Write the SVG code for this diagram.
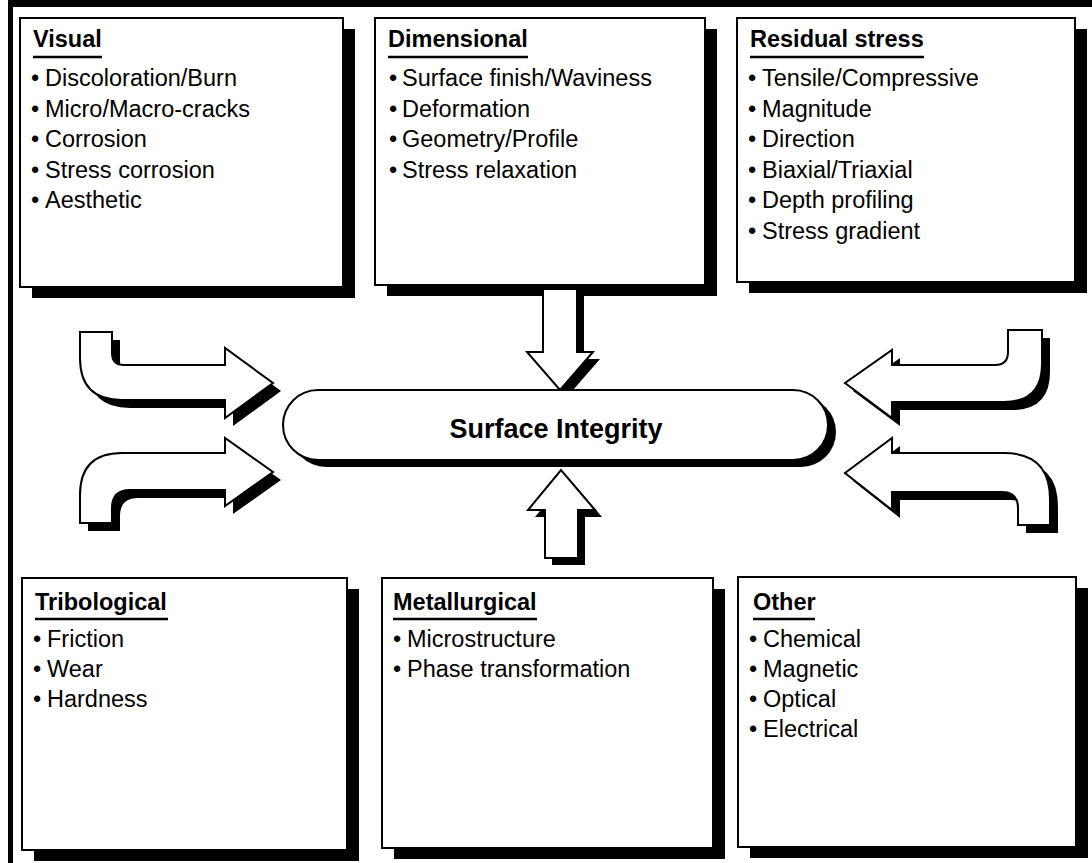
<svg xmlns="http://www.w3.org/2000/svg" width="1092" height="863" viewBox="0 0 1092 863">
<style>
.bg{fill:#fff}
.frame{fill:#000}
.box{fill:#fff;stroke:#000;stroke-width:2}
.sh{fill:#000}
.ttl{font-family:"Liberation Sans",Arial,Helvetica,sans-serif;font-weight:bold;font-size:23.5px;fill:#000}
.itm{font-family:"Liberation Sans",Arial,Helvetica,sans-serif;font-size:23.5px;fill:#000}
.ul{stroke:#000;stroke-width:2.5}
.arr{fill:#fff;stroke:#000;stroke-width:2;stroke-linejoin:miter}
.center{font-family:"Liberation Sans",Arial,Helvetica,sans-serif;font-weight:bold;font-size:27px;fill:#000}
</style>
<defs>
<path id="aL1" d="M80 332 L112 332 L112 353 Q112 365 124 365 L225 365 L225 348 L273 383 L225 418 L225 400 L122 400 Q80 400 80 358 Z"/>
<path id="aL2" d="M80 523 L80 495 Q80 453 122 453 L225 453 L225 438 L273 472 L225 506 L225 490 L130 490 Q112 490 112 508 L112 523 Z"/>
<path id="aR1" d="M1042 330 L1008 330 L1008 352 Q1008 365 995 365 L892 365 L892 350 L845 383 L892 418 L892 402 L1004 402 Q1042 402 1042 364 Z"/>
<path id="aR2" d="M1018 525 L1018 508 Q1018 492 1002 492 L892 492 L892 510 L845 473 L892 438 L892 453 L1004 453 Q1050 453 1050 499 L1050 525 Z"/>
<path id="aD" d="M543 289 L577 289 L577 352 L593 352 L560 390 L527 352 L543 352 Z"/>
<path id="aU" d="M545 558 L545 510 L528 510 L561 470 L595 510 L578 510 L578 558 Z"/>
</defs>
<rect class="bg" x="0" y="0" width="1092" height="863"/>
<rect class="frame" x="8" y="0" width="1084" height="7"/>
<rect class="frame" x="8" y="0" width="5" height="863"/>

<g id="visual">
<rect class="sh" x="32" y="29" width="323" height="269"/>
<rect class="box" x="20" y="18" width="323" height="269"/>
<text class="ttl" x="33" y="47">Visual</text>
<line class="ul" x1="33" y1="57" x2="102" y2="57"/>
<text class="itm"><tspan x="31" y="86">•</tspan><tspan x="45" y="86">Discoloration/Burn</tspan></text>
<text class="itm"><tspan x="31" y="116.5">•</tspan><tspan x="45" y="116.5">Micro/Macro-cracks</tspan></text>
<text class="itm"><tspan x="31" y="147">•</tspan><tspan x="45" y="147">Corrosion</tspan></text>
<text class="itm"><tspan x="31" y="177.5">•</tspan><tspan x="45" y="177.5">Stress corrosion</tspan></text>
<text class="itm"><tspan x="31" y="208">•</tspan><tspan x="45" y="208">Aesthetic</tspan></text>
</g>

<g id="dimensional">
<rect class="sh" x="387" y="29" width="330" height="267"/>
<rect class="box" x="375" y="18" width="330" height="267"/>
<text class="ttl" x="388" y="47">Dimensional</text>
<line class="ul" x1="388" y1="57" x2="528" y2="57"/>
<text class="itm"><tspan x="389" y="86">•</tspan><tspan x="402" y="86">Surface finish/Waviness</tspan></text>
<text class="itm"><tspan x="389" y="116.5">•</tspan><tspan x="402" y="116.5">Deformation</tspan></text>
<text class="itm"><tspan x="389" y="147">•</tspan><tspan x="402" y="147">Geometry/Profile</tspan></text>
<text class="itm"><tspan x="389" y="177.5">•</tspan><tspan x="402" y="177.5">Stress relaxation</tspan></text>
</g>

<g id="residual-stress">
<rect class="sh" x="749" y="29" width="338" height="264"/>
<rect class="box" x="737" y="18" width="338" height="264"/>
<text class="ttl" x="750" y="47">Residual stress</text>
<line class="ul" x1="750" y1="57" x2="924" y2="57"/>
<text class="itm"><tspan x="748" y="86">•</tspan><tspan x="762" y="86">Tensile/Compressive</tspan></text>
<text class="itm"><tspan x="748" y="116.5">•</tspan><tspan x="762" y="116.5">Magnitude</tspan></text>
<text class="itm"><tspan x="748" y="147">•</tspan><tspan x="762" y="147">Direction</tspan></text>
<text class="itm"><tspan x="748" y="177.5">•</tspan><tspan x="762" y="177.5">Biaxial/Triaxial</tspan></text>
<text class="itm"><tspan x="748" y="208">•</tspan><tspan x="762" y="208">Depth profiling</tspan></text>
<text class="itm"><tspan x="748" y="238.5">•</tspan><tspan x="762" y="238.5">Stress gradient</tspan></text>
</g>

<g id="tribological">
<rect class="sh" x="34" y="589" width="325" height="272"/>
<rect class="box" x="22" y="578" width="325" height="272"/>
<text class="ttl" x="35" y="610">Tribological</text>
<line class="ul" x1="35" y1="619" x2="168" y2="619"/>
<text class="itm"><tspan x="33" y="647">•</tspan><tspan x="47" y="647">Friction</tspan></text>
<text class="itm"><tspan x="33" y="677">•</tspan><tspan x="47" y="677">Wear</tspan></text>
<text class="itm"><tspan x="33" y="707">•</tspan><tspan x="47" y="707">Hardness</tspan></text>
</g>

<g id="metallurgical">
<rect class="sh" x="394" y="589" width="331" height="270"/>
<rect class="box" x="382" y="578" width="331" height="270"/>
<text class="ttl" x="393" y="610">Metallurgical</text>
<line class="ul" x1="393" y1="619" x2="537" y2="619"/>
<text class="itm"><tspan x="393" y="647">•</tspan><tspan x="407" y="647">Microstructure</tspan></text>
<text class="itm"><tspan x="393" y="677">•</tspan><tspan x="407" y="677">Phase transformation</tspan></text>
</g>

<g id="other">
<rect class="sh" x="750" y="588" width="338" height="270"/>
<rect class="box" x="738" y="577" width="338" height="270"/>
<text class="ttl" x="753" y="610">Other</text>
<line class="ul" x1="753" y1="619" x2="815" y2="619"/>
<text class="itm"><tspan x="749" y="647">•</tspan><tspan x="763" y="647">Chemical</tspan></text>
<text class="itm"><tspan x="749" y="677">•</tspan><tspan x="763" y="677">Magnetic</tspan></text>
<text class="itm"><tspan x="749" y="707">•</tspan><tspan x="763" y="707">Optical</tspan></text>
<text class="itm"><tspan x="749" y="737">•</tspan><tspan x="763" y="737">Electrical</tspan></text>
</g>

<g id="connectors">
<g transform="translate(8,8)" class="sh">
<use href="#aL1"/><use href="#aL2"/><use href="#aR1"/><use href="#aR2"/>
</g>
<g transform="translate(7,7)" class="sh">
<use href="#aD"/><use href="#aU"/>
</g>
<use href="#aL1" class="arr"/>
<use href="#aL2" class="arr"/>
<use href="#aR1" class="arr"/>
<use href="#aR2" class="arr"/>
<use href="#aD" class="arr"/>
<use href="#aU" class="arr"/>
</g>

<g id="surface-integrity">
<rect class="sh" x="291" y="397" width="545" height="70" rx="35"/>
<rect class="box" x="283" y="390" width="545" height="70" rx="35" stroke-width="2.5"/>
<text class="center" x="556" y="438" text-anchor="middle">Surface Integrity</text>
</g>
</svg>
